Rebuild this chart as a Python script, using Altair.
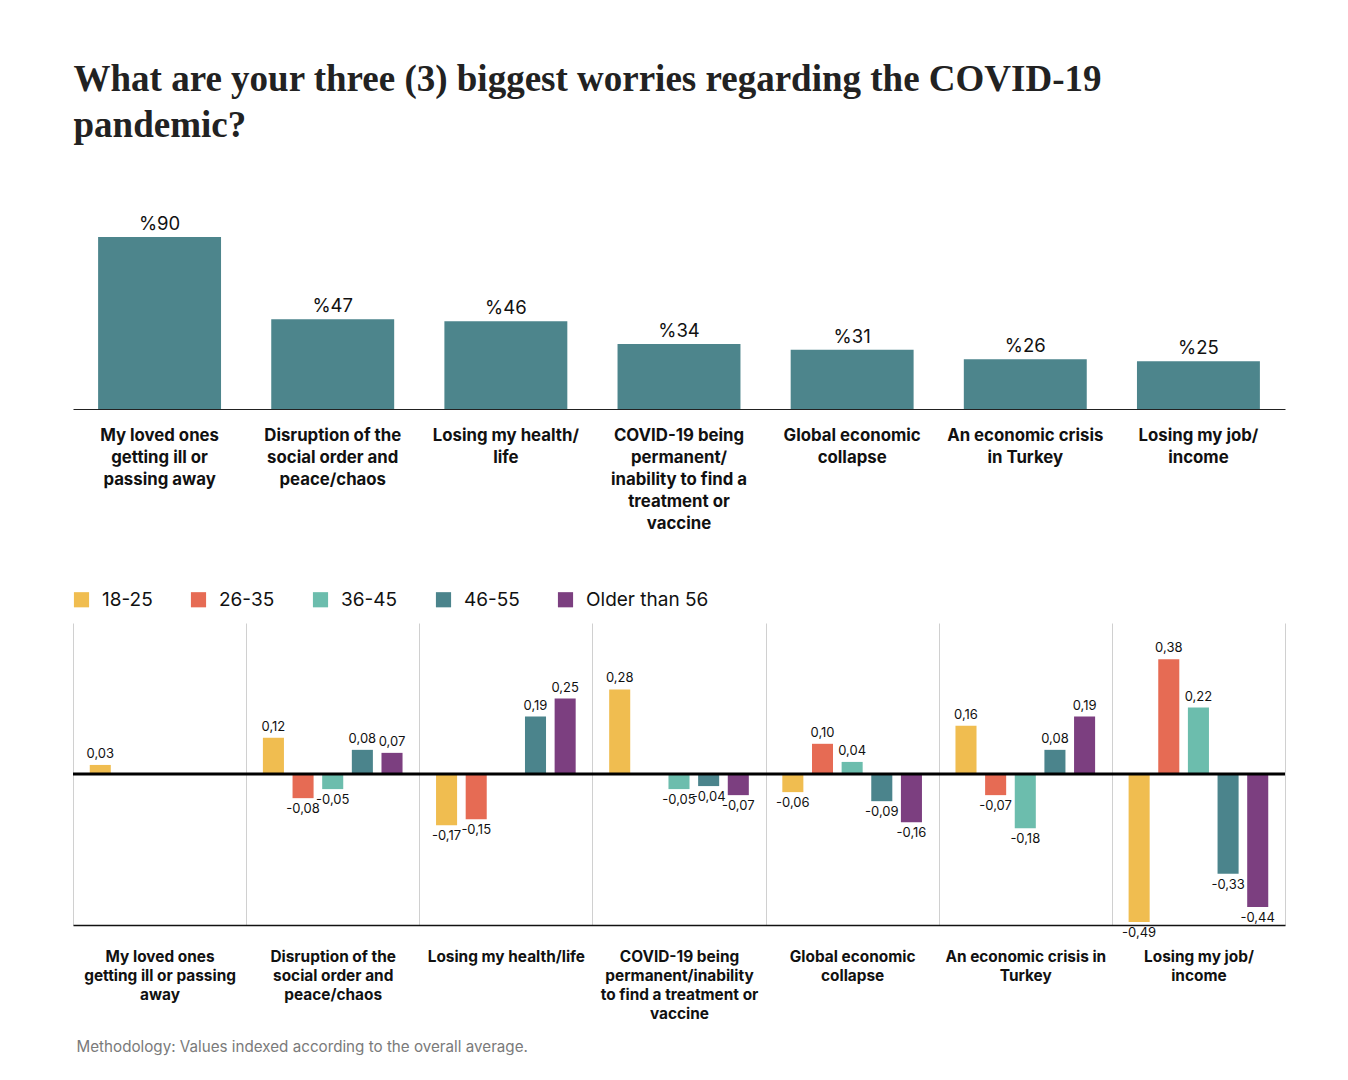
import altair as alt
import pandas as pd

# ---------------- data ----------------
categories = [
    "My loved ones getting ill or passing away",
    "Disruption of the social order and peace/chaos",
    "Losing my health/life",
    "COVID-19 being permanent/inability to find a treatment or vaccine",
    "Global economic collapse",
    "An economic crisis in Turkey",
    "Losing my job/income",
]
top_labels = [
    "My loved ones|getting ill or|passing away",
    "Disruption of the|social order and|peace/chaos",
    "Losing my health/|life",
    "COVID-19 being|permanent/|inability to find a|treatment or|vaccine",
    "Global economic|collapse",
    "An economic crisis|in Turkey",
    "Losing my job/|income",
]
bottom_labels = [
    "My loved ones|getting ill or passing|away",
    "Disruption of the|social order and|peace/chaos",
    "Losing my health/life",
    "COVID-19 being|permanent/inability|to find a treatment or|vaccine",
    "Global economic|collapse",
    "An economic crisis in|Turkey",
    "Losing my job/|income",
]
overall_pct = [90, 47, 46, 34, 31, 26, 25]

age_groups = ["18-25", "26-35", "36-45", "46-55", "Older than 56"]
age_colors = ["#f0bd50", "#e66b54", "#6cbdad", "#4b848c", "#7c3f80"]
idx_18_25 = [0.03, 0.12, -0.17, 0.28, -0.06, 0.16, -0.49]
idx_26_35 = [None, -0.08, -0.15, None, 0.10, -0.07, 0.38]
idx_36_45 = [None, -0.05, None, -0.05, 0.04, -0.18, 0.22]
idx_46_55 = [None, 0.08, 0.19, -0.04, -0.09, 0.08, -0.33]
idx_56_plus = [None, 0.07, 0.25, -0.07, -0.16, 0.19, -0.44]

title_lines = [
    "What are your three (3) biggest worries regarding the COVID-19",
    "pandemic?",
]
note = "Methodology: Values indexed according to the overall average."

# ---------------- tables ----------------
top_df = pd.DataFrame({"cat": categories, "label": top_labels, "pct": overall_pct})

rows = []
for grp, vals in zip(age_groups, [idx_18_25, idx_26_35, idx_36_45, idx_46_55, idx_56_plus]):
    for cat, lab, v in zip(categories, bottom_labels, vals):
        if v is not None:
            rows.append({"cat": cat, "label": lab, "group": grp, "value": v})
idx_df = pd.DataFrame(rows)
zero_df = pd.DataFrame({"zero": [0.0]})

SANS = "Inter"
W = 1212

# ---------------- top chart ----------------
top_x = alt.X(
    "label:N",
    sort=top_labels,
    scale=alt.Scale(paddingInner=0.29, paddingOuter=0.145),
    axis=alt.Axis(
        title=None,
        labelExpr="split(datum.label, '|')",
        labelAngle=0,
        ticks=False,
        domainColor="#222222",
        domainWidth=1,
        labelFont=SANS,
        labelFontWeight="bold",
        labelFontSize=16.8,
        labelLineHeight=22,
        labelPadding=18,
        labelLimit=400,
        labelColor="#111111",
    ),
)
top_y = alt.Y("pct:Q", scale=alt.Scale(domain=[0, 100], nice=False), axis=None)

top_bars = alt.Chart(top_df).mark_bar(color="#4d858c").encode(x=top_x, y=top_y)
top_text = (
    alt.Chart(top_df)
    .transform_calculate(txt="'%' + datum.pct")
    .mark_text(baseline="bottom", dy=-3, fontSize=18.5, font=SANS, color="#111111")
    .encode(x=top_x, y=top_y, text="txt:N")
)
top_chart = alt.layer(top_bars, top_text).properties(width=W, height=191)

# ---------------- bottom chart ----------------
bx = alt.X(
    "label:N",
    sort=bottom_labels,
    scale=alt.Scale(domain=bottom_labels, paddingInner=0, paddingOuter=0),
    axis=alt.Axis(
        title=note,
        titleFont=SANS,
        titleFontSize=15.2,
        titleFontWeight="normal",
        titleColor="#7a7a7a",
        titleAnchor="start",
        titleAlign="left",
        titleBaseline="middle",
        titleX=3,
        titleY=121,
        labelExpr="split(datum.label, '|')",
        labelAngle=0,
        ticks=False,
        tickBand="extent",
        grid=True,
        gridColor="#d0d0d0",
        gridWidth=1,
        domainColor="#111111",
        domainWidth=1.5,
        labelFont=SANS,
        labelFontWeight="bold",
        labelFontSize=15.4,
        labelLineHeight=19,
        labelPadding=24,
        labelLimit=400,
        labelColor="#111111",
    ),
)
bxo = alt.XOffset(
    "group:N",
    sort=age_groups,
    scale=alt.Scale(domain=age_groups, paddingInner=0.29, paddingOuter=0.565),
)
by = alt.Y("value:Q", scale=alt.Scale(domain=[-0.5, 0.5], nice=False), axis=None)

idx_bars = alt.Chart(idx_df).mark_bar().encode(
    x=bx,
    xOffset=bxo,
    y=by,
    color=alt.Color(
        "group:N",
        sort=age_groups,
        scale=alt.Scale(domain=age_groups, range=age_colors),
        legend=alt.Legend(
            title=None,
            orient="none",
            legendX=-1,
            legendY=-33,
            direction="horizontal",
            symbolType="square",
            symbolSize=230,
            symbolStrokeWidth=0,
            labelFont=SANS,
            labelFontSize=19,
            labelColor="#111111",
            labelOffset=11,
            columnPadding=36,
        ),
    ),
)
lbl = "(datum.value < 0 ? '-' : '') + replace(format(abs(datum.value), '.2f'), '.', ',')"
pos_text = (
    alt.Chart(idx_df)
    .transform_filter("datum.value > 0")
    .transform_calculate(txt=lbl)
    .mark_text(baseline="bottom", dy=-4, fontSize=13, font=SANS, color="#111111")
    .encode(x=bx, xOffset=bxo, y=by, text="txt:N")
)
neg_text = (
    alt.Chart(idx_df)
    .transform_filter("datum.value < 0")
    .transform_calculate(txt=lbl)
    .mark_text(baseline="top", dy=5, fontSize=13, font=SANS, color="#111111")
    .encode(x=bx, xOffset=bxo, y=by, text="txt:N")
)
zero_rule = alt.Chart(zero_df).mark_rule(color="#000000", strokeWidth=3).encode(
    y=alt.Y("zero:Q", scale=alt.Scale(domain=[-0.5, 0.5], nice=False), axis=None)
)
bottom_chart = alt.layer(idx_bars, pos_text, neg_text, zero_rule).properties(
    width=W, height=302
)

chart = (
    alt.vconcat(top_chart, bottom_chart, spacing=58)
    .resolve_legend(color="independent")
    .resolve_scale(x="independent", y="independent")
    .properties(
        padding={"left": 63, "top": 53, "right": 10, "bottom": 10},
        title=alt.TitleParams(
            text=title_lines,
            anchor="start",
            font="Liberation Serif",
            fontSize=37,
            fontWeight="bold",
            color="#222222",
            lineHeight=46,
            offset=70,
            dx=2,
        ),
    )
    .configure(font=SANS, background="#ffffff")
    .configure_view(stroke=None)
)

chart.save("out.html", embed_options={"renderer": "svg", "actions": False})
